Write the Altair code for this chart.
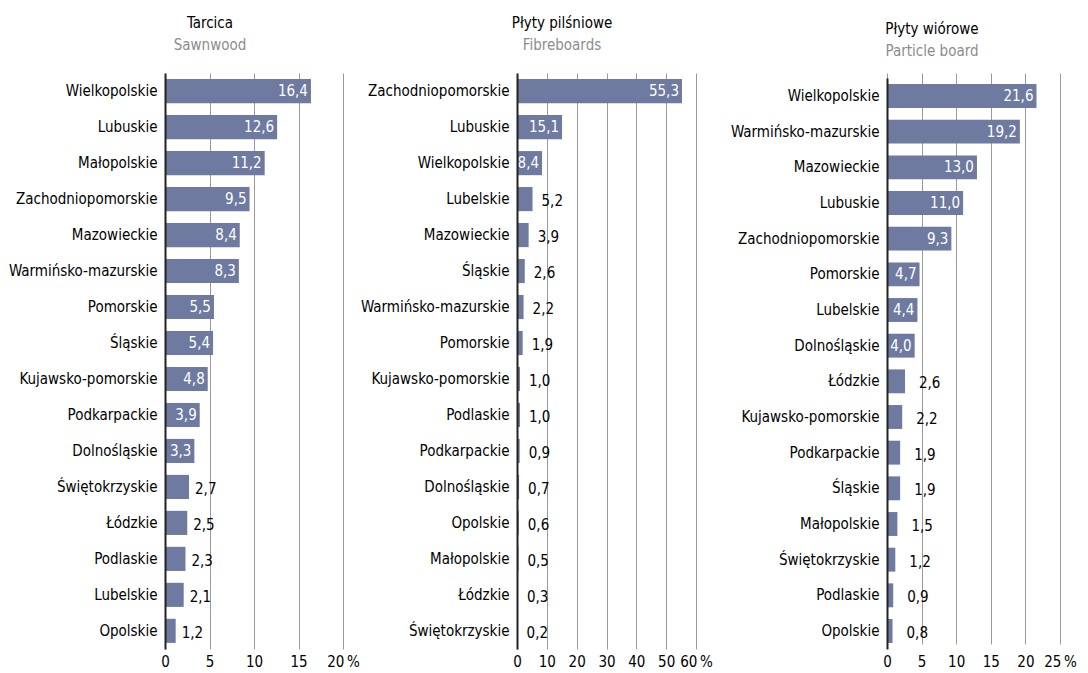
import altair as alt
import pandas as pd

FONT = "DejaVu Sans Condensed, sans-serif"
BAR = "#6e7aa0"
FS = 15

# Panel 1 – Tarcica / Sawnwood
cats1 = ["Wielkopolskie", "Lubuskie", "Małopolskie", "Zachodniopomorskie", "Mazowieckie",
         "Warmińsko-mazurskie", "Pomorskie", "Śląskie", "Kujawsko-pomorskie", "Podkarpackie",
         "Dolnośląskie", "Świętokrzyskie", "Łódzkie", "Podlaskie", "Lubelskie", "Opolskie"]
vals1 = [16.4, 12.6, 11.2, 9.5, 8.4, 8.3, 5.5, 5.4, 4.8, 3.9, 3.3, 2.7, 2.5, 2.3, 2.1, 1.2]
ticks1 = [0, 5, 10, 15, 20]

# Panel 2 – Płyty pilśniowe / Fibreboards
cats2 = ["Zachodniopomorskie", "Lubuskie", "Wielkopolskie", "Lubelskie", "Mazowieckie",
         "Śląskie", "Warmińsko-mazurskie", "Pomorskie", "Kujawsko-pomorskie", "Podlaskie",
         "Podkarpackie", "Dolnośląskie", "Opolskie", "Małopolskie", "Łódzkie", "Świętokrzyskie"]
vals2 = [55.3, 15.1, 8.4, 5.2, 3.9, 2.6, 2.2, 1.9, 1.0, 1.0, 0.9, 0.7, 0.6, 0.5, 0.3, 0.2]
ticks2 = [0, 10, 20, 30, 40, 50, 60]

# Panel 3 – Płyty wiórowe / Particle board
cats3 = ["Wielkopolskie", "Warmińsko-mazurskie", "Mazowieckie", "Lubuskie", "Zachodniopomorskie",
         "Pomorskie", "Lubelskie", "Dolnośląskie", "Łódzkie", "Kujawsko-pomorskie",
         "Podkarpackie", "Śląskie", "Małopolskie", "Świętokrzyskie", "Podlaskie", "Opolskie"]
vals3 = [21.6, 19.2, 13.0, 11.0, 9.3, 4.7, 4.4, 4.0, 2.6, 2.2, 1.9, 1.9, 1.5, 1.2, 0.9, 0.8]
ticks3 = [0, 5, 10, 15, 20, 25]


def panel(cats, vals, ticks, title, subtitle, threshold, width, height, out_dx,
          xpad=5, top_gap=0, title_dy=0):
    df = pd.DataFrame({
        "cat": cats,
        "val": vals,
        "label": [f"{v:.1f}".replace(".", ",") for v in vals],
        "inside": [v >= threshold for v in vals],
    })
    top = ticks[-1]
    yscale = alt.Scale(paddingInner=0.33, paddingOuter=0.17)
    if top_gap:
        yscale = alt.Scale(paddingInner=0.33, paddingOuter=0.17, range=[top_gap, height])
    y = alt.Y("cat:N", sort=cats, title=None, scale=yscale,
              axis=alt.Axis(labelFontSize=FS, labelColor="black", labelFont=FONT,
                            domainColor="#222222", domainWidth=2, ticks=False,
                            labelPadding=8, zindex=1, labelLimit=300))
    x = alt.X("val:Q", title=None,
              scale=alt.Scale(domain=[0, top], nice=False),
              axis=alt.Axis(values=ticks, grid=True, gridColor="#9a9a9a", gridWidth=1,
                            domain=False, ticks=False, labelFontSize=FS, labelFont=FONT,
                            labelColor="black", labelPadding=xpad, labelOverlap=False,
                            labelFlush=False,
                            labelExpr=f"datum.value == {top} ? '{top}\u2009%' : datum.label"))
    bars = alt.Chart(df).mark_bar(color=BAR).encode(x=x, y=y)
    inside = alt.Chart(df).transform_filter("datum.inside").mark_text(
        align="right", dx=-3, color="white", fontSize=FS, font=FONT
    ).encode(x=x, y=y, text="label:N")
    outside = alt.Chart(df).transform_filter("!datum.inside").mark_text(
        align="left", dx=out_dx, dy=2, color="black", fontSize=FS, font=FONT
    ).encode(x=x, y=y, text="label:N")
    tparams = dict(text=title, subtitle=subtitle, anchor="start", align="center",
                   frame="group", dx=45, fontSize=FS, fontWeight="normal",
                   color="black", font=FONT, subtitleFont=FONT,
                   subtitleFontSize=FS, subtitleColor="#8c8c8c",
                   subtitlePadding=7, offset=20)
    if title_dy:
        tparams["dy"] = title_dy
    return alt.layer(bars, inside, outside).properties(
        width=width, height=height, title=alt.TitleParams(**tparams))


p1 = panel(cats1, vals1, ticks1, "Tarcica", "Sawnwood", 3.0, 178, 576, 6, xpad=5)
p2 = panel(cats2, vals2, ticks2, "Płyty pilśniowe", "Fibreboards", 8.0, 179, 576, 9, xpad=5)
p3 = panel(cats3, vals3, ticks3, "Płyty wiórowe", "Particle board", 3.0, 173, 576, 14,
           xpad=5, top_gap=5, title_dy=6)

chart = alt.hconcat(alt.hconcat(p1, p2, spacing=0), p3, spacing=17).configure(
    font=FONT
).configure_view(stroke=None).properties(
    padding={"left": 0, "top": 8, "right": 0, "bottom": 0}
)

chart.save("out.html", embed_options={"renderer": "svg", "actions": False})
